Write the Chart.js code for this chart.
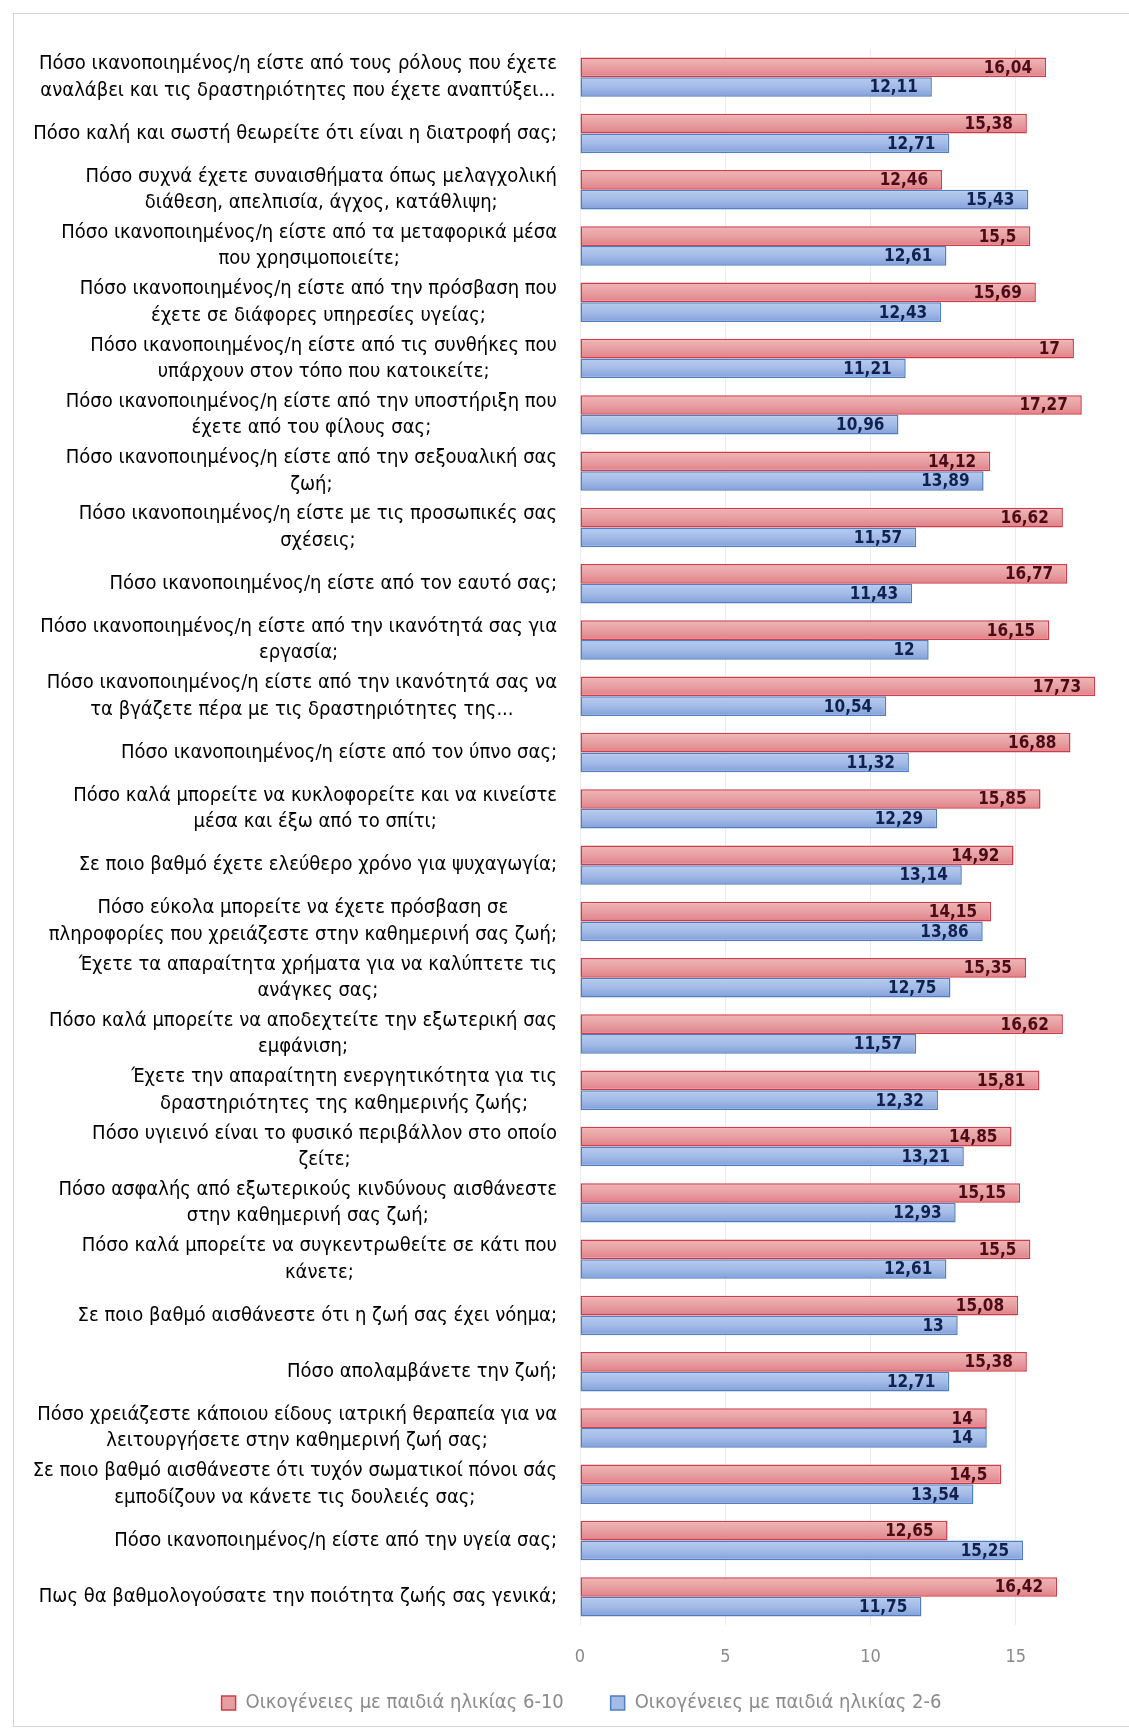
<!DOCTYPE html>
<html lang="el">
<head>
    <meta charset="UTF-8">
    <title>Ποιότητα ζωής</title>
    <script src="https://cdn.jsdelivr.net/npm/chart.js"></script>
    <style>
        html, body { margin: 0; padding: 0; background: #fff; overflow: hidden; }
        .frame {
            position: absolute; left: 13px; top: 13px;
            width: 1140px; height: 1712px;
            border: 1px solid #d4d4d4;
        }
        #wrap { position: absolute; left: 0; top: 0; width: 1129px; height: 1731px; }
    </style>
</head>
<body>
    <div class="frame"></div>
    <div id="wrap">
        <canvas id="qolChart" width="1129" height="1731"></canvas>
    </div>

    <script>
        // ερωτήσεις (κάθε στοιχείο = γραμμές της ετικέτας)
        const questions = [
            ["Πόσο ικανοποιημένος/η είστε από τους ρόλους που έχετε", "αναλάβει και τις δραστηριότητες που έχετε αναπτύξει..."],
            ["Πόσο καλή και σωστή θεωρείτε ότι είναι η διατροφή σας;"],
            ["Πόσο συχνά έχετε συναισθήματα όπως μελαγχολική", "διάθεση, απελπισία, άγχος, κατάθλιψη;"],
            ["Πόσο ικανοποιημένος/η είστε από τα μεταφορικά μέσα", "που χρησιμοποιείτε;"],
            ["Πόσο ικανοποιημένος/η είστε από την πρόσβαση που", "έχετε σε διάφορες υπηρεσίες υγείας;"],
            ["Πόσο ικανοποιημένος/η είστε από τις συνθήκες που", "υπάρχουν στον τόπο που κατοικείτε;"],
            ["Πόσο ικανοποιημένος/η είστε από την υποστήριξη που", "έχετε από του φίλους σας;"],
            ["Πόσο ικανοποιημένος/η είστε από την σεξουαλική σας", "ζωή;"],
            ["Πόσο ικανοποιημένος/η είστε με τις προσωπικές σας", "σχέσεις;"],
            ["Πόσο ικανοποιημένος/η είστε από τον εαυτό σας;"],
            ["Πόσο ικανοποιημένος/η είστε από την ικανότητά σας για", "εργασία;"],
            ["Πόσο ικανοποιημένος/η είστε από την ικανότητά σας να", "τα βγάζετε πέρα με τις δραστηριότητες της..."],
            ["Πόσο ικανοποιημένος/η είστε από τον ύπνο σας;"],
            ["Πόσο καλά μπορείτε να κυκλοφορείτε και να κινείστε", "μέσα και έξω από το σπίτι;"],
            ["Σε ποιο βαθμό έχετε ελεύθερο χρόνο για ψυχαγωγία;"],
            ["Πόσο εύκολα μπορείτε να έχετε πρόσβαση σε", "πληροφορίες που χρειάζεστε στην καθημερινή σας ζωή;"],
            ["Έχετε τα απαραίτητα χρήματα για να καλύπτετε τις", "ανάγκες σας;"],
            ["Πόσο καλά μπορείτε να αποδεχτείτε την εξωτερική σας", "εμφάνιση;"],
            ["Έχετε την απαραίτητη ενεργητικότητα για τις", "δραστηριότητες της καθημερινής ζωής;"],
            ["Πόσο υγιεινό είναι το φυσικό περιβάλλον στο οποίο", "ζείτε;"],
            ["Πόσο ασφαλής από εξωτερικούς κινδύνους αισθάνεστε", "στην καθημερινή σας ζωή;"],
            ["Πόσο καλά μπορείτε να συγκεντρωθείτε σε κάτι που", "κάνετε;"],
            ["Σε ποιο βαθμό αισθάνεστε ότι η ζωή σας έχει νόημα;"],
            ["Πόσο απολαμβάνετε την ζωή;"],
            ["Πόσο χρειάζεστε κάποιου είδους ιατρική θεραπεία για να", "λειτουργήσετε στην καθημερινή ζωή σας;"],
            ["Σε ποιο βαθμό αισθάνεστε ότι τυχόν σωματικοί πόνοι σάς", "εμποδίζουν να κάνετε τις δουλειές σας;"],
            ["Πόσο ικανοποιημένος/η είστε από την υγεία σας;"],
            ["Πως θα βαθμολογούσατε την ποιότητα ζωής σας γενικά;"]
        ];

        const ages6to10 = [16.04, 15.38, 12.46, 15.5, 15.69, 17, 17.27, 14.12, 16.62, 16.77,
                           16.15, 17.73, 16.88, 15.85, 14.92, 14.15, 15.35, 16.62, 15.81, 14.85,
                           15.15, 15.5, 15.08, 15.38, 14, 14.5, 12.65, 16.42];
        const ages2to6 = [12.11, 12.71, 15.43, 12.61, 12.43, 11.21, 10.96, 13.89, 11.57, 11.43,
                          12, 10.54, 11.32, 12.29, 13.14, 13.86, 12.75, 11.57, 12.32, 13.21,
                          12.93, 12.61, 13, 12.71, 14, 13.54, 15.25, 11.75];
        const xTicks = [0, 5, 10, 15];

        const narrow = '"DejaVu Sans Condensed", "Liberation Sans", sans-serif';
        const labelFont = '20px ' + narrow;
        const catPct = 0.7;

        // ετικέτες κατηγοριών: μπλοκ στοιχισμένο δεξιά, γραμμές κεντραρισμένες
        const questionLabels = {
            id: 'questionLabels',
            afterDraw(chart) {
                const ctx = chart.ctx;
                const y = chart.scales.y;
                const right = chart.chartArea.left - 23;
                const lh = 26.5;
                ctx.save();
                ctx.font = labelFont;
                ctx.fillStyle = '#000';
                ctx.textAlign = 'center';
                ctx.textBaseline = 'middle';
                questions.forEach((lines, i) => {
                    const w = Math.max(...lines.map(l => ctx.measureText(l).width));
                    const cx = right - w / 2;
                    const cy = y.getPixelForValue(i);
                    const top = cy - (lines.length - 1) * lh / 2;
                    lines.forEach((l, k) => ctx.fillText(l, cx, top + k * lh));
                });
                ctx.restore();
            }
        };

        // τιμές μέσα στο τέλος της μπάρας
        const valueLabels = {
            id: 'valueLabels',
            afterDatasetsDraw(chart) {
                const ctx = chart.ctx;
                const colors = ['#4a0b16', '#10204f'];
                ctx.save();
                ctx.font = 'bold 17px ' + narrow;
                ctx.textAlign = 'right';
                ctx.textBaseline = 'middle';
                chart.data.datasets.forEach((ds, di) => {
                    chart.getDatasetMeta(di).data.forEach((bar, i) => {
                        ctx.fillStyle = colors[di];
                        ctx.fillText(String(ds.data[i]).replace('.', ','), bar.x - 14, bar.y + 1);
                    });
                });
                ctx.restore();
            }
        };

        // το υπόμνημα λίγο πιο δεξιά, όπως στο πρωτότυπο
        const legendShift = {
            id: 'legendShift',
            afterLayout(chart) {
                chart.legend.left += 30;
                chart.legend.right += 30;
            }
        };

        // κάθετη διαβάθμιση για κάθε μπάρα (όπως στο Excel)
        function barGradient(stops) {
            return function(context) {
                const chart = context.chart;
                const y = chart.scales.y;
                if (!y || context.dataIndex === undefined) return stops[1];
                const cat = y.getPixelForValue(context.dataIndex);
                const step = Math.abs(y.getPixelForValue(1) - y.getPixelForValue(0));
                if (!isFinite(cat) || !isFinite(step) || step === 0) return stops[1];
                const half = step * catPct / 2;
                const top = context.datasetIndex === 0 ? cat - half : cat;
                const bottom = top + half;
                const g = chart.ctx.createLinearGradient(0, top, 0, bottom);
                g.addColorStop(0, stops[0]);
                g.addColorStop(0.5, stops[1]);
                g.addColorStop(1, stops[2]);
                return g;
            };
        }

        const ctx = document.getElementById('qolChart').getContext('2d');
        const qolChart = new Chart(ctx, {
            type: 'bar',
            data: {
                labels: questions,
                datasets: [{
                    label: 'Οικογένειες με παιδιά ηλικίας 6-10',
                    data: ages6to10,
                    backgroundColor: barGradient(['#f0b6b6', '#e7a0a2', '#e27f87']),
                    borderColor: '#cf3c4a',
                    borderWidth: 1.5,
                    borderSkipped: false,
                    barPercentage: 1.0,
                    categoryPercentage: catPct
                }, {
                    label: 'Οικογένειες με παιδιά ηλικίας 2-6',
                    data: ages2to6,
                    backgroundColor: barGradient(['#b7ccee', '#a3bbe7', '#829fda']),
                    borderColor: '#4f7fc0',
                    borderWidth: 1.5,
                    borderSkipped: false,
                    barPercentage: 1.0,
                    categoryPercentage: catPct
                }]
            },
            options: {
                responsive: false,
                animation: false,
                indexAxis: 'y',
                layout: { padding: { top: 49, right: 26, left: 0, bottom: 8 } },
                scales: {
                    x: {
                        min: 0,
                        max: 18,
                        afterBuildTicks(scale) {
                            scale.ticks = xTicks.map(v => ({ value: v }));
                        },
                        afterFit(scale) { scale.height = 44; },
                        grid: { color: '#ececec', drawTicks: false },
                        border: { display: false },
                        ticks: {
                            padding: 22,
                            color: '#8a8a8a',
                            font: { family: narrow, size: 18 }
                        }
                    },
                    y: {
                        afterFit(scale) { scale.width = 580; },
                        grid: { display: false },
                        border: { display: false },
                        ticks: { display: false }
                    }
                },
                plugins: {
                    legend: {
                        position: 'bottom',
                        labels: {
                            color: '#8a8a8a',
                            boxWidth: 14,
                            boxHeight: 14,
                            padding: 24,
                            font: { family: narrow, size: 20 },
                            generateLabels(chart) {
                                const fills = ['#e7a0a2', '#a3bbe7'];
                                return chart.data.datasets.map((ds, i) => ({
                                    // επιπλέον κενό ανάμεσα στα δύο στοιχεία
                                    text: i === 0 ? ds.label + '\u00a0\u00a0\u00a0\u00a0' : ds.label,
                                    fillStyle: fills[i],
                                    strokeStyle: ds.borderColor,
                                    lineWidth: 1.5,
                                    fontColor: '#8a8a8a',
                                    datasetIndex: i,
                                    hidden: false
                                }));
                            }
                        }
                    },
                    tooltip: { enabled: false }
                }
            },
            plugins: [questionLabels, valueLabels, legendShift]
        });
    </script>
</body>
</html>
